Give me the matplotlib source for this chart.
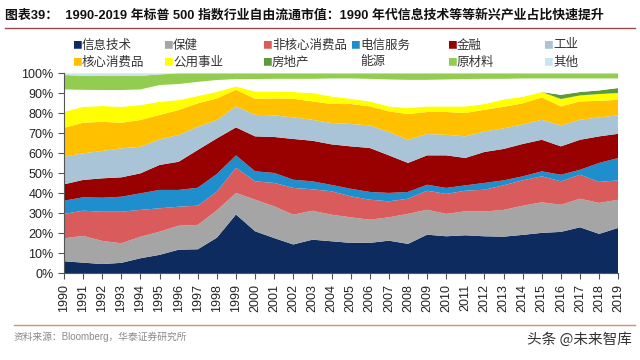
import matplotlib
matplotlib.use("Agg")
import matplotlib.pyplot as plt
from matplotlib.lines import Line2D
import numpy as np

plt.rcParams['font.family'] = ['Liberation Sans', 'Noto Sans CJK SC', 'DejaVu Sans']

years = list(range(1990, 2020))

# 各行业占比 (%)，自下而上堆叠
info_tech = [6.0, 5.3, 4.6, 5.2, 7.5, 9.2, 11.8, 12.0, 17.8, 29.4,
             21.0, 17.6, 14.4, 16.8, 16.0, 15.2, 15.2, 16.3, 14.7, 19.3,
             18.5, 19.0, 18.5, 18.3, 19.2, 20.2, 20.7, 23.0, 19.7, 22.7]
health = [11.5, 13.4, 11.6, 9.8, 10.8, 11.6, 12.0, 12.2, 13.7, 10.8,
          15.8, 15.9, 14.9, 14.5, 13.3, 12.8, 11.6, 11.7, 15.0, 12.5,
          11.2, 12.0, 12.4, 13.4, 14.6, 15.3, 13.6, 14.3, 15.5, 14.1]
cons_disc = [12.2, 12.6, 14.6, 15.8, 13.4, 11.7, 9.5, 9.6, 9.3, 12.6,
             9.2, 11.7, 13.4, 10.7, 11.7, 10.5, 10.0, 8.0, 7.6, 9.5,
             10.0, 10.3, 10.9, 12.3, 12.7, 13.0, 11.7, 12.0, 10.5, 9.7]
telecom = [6.6, 6.7, 7.0, 7.5, 8.3, 9.2, 8.4, 9.0, 8.9, 6.2,
           5.0, 5.0, 4.1, 4.0, 3.2, 3.8, 3.9, 4.2, 3.4, 3.0,
           3.0, 2.7, 3.4, 2.5, 2.0, 2.5, 3.3, 2.5, 9.5, 11.2]
financials = [8.2, 8.7, 9.7, 9.7, 10.0, 12.5, 14.1, 18.9, 17.8, 14.0,
              17.5, 18.0, 20.4, 20.3, 20.3, 21.2, 22.0, 18.8, 14.5, 14.7,
              16.3, 13.7, 15.5, 15.7, 16.2, 15.8, 14.2, 15.0, 13.3, 12.1]
industrials = [13.8, 13.3, 13.7, 14.5, 13.3, 12.8, 13.4, 11.6, 9.2, 10.5,
               10.8, 10.8, 10.8, 10.5, 10.7, 11.2, 11.3, 11.7, 11.6, 10.7,
               10.3, 10.8, 10.3, 10.3, 9.8, 10.0, 10.5, 10.0, 9.5, 9.2]
cons_staples = [14.5, 15.3, 14.6, 12.8, 13.4, 12.2, 12.5, 11.7, 10.8, 8.3,
                8.0, 8.5, 9.3, 9.2, 9.5, 10.0, 9.5, 10.3, 12.9, 11.0,
                11.4, 11.7, 10.8, 10.8, 10.5, 11.2, 9.5, 9.2, 8.3, 7.8]
utilities = [8.0, 8.0, 7.9, 8.0, 7.5, 6.6, 5.0, 3.7, 3.3, 1.7,
             3.7, 3.5, 3.4, 4.2, 3.8, 2.6, 2.5, 2.5, 3.0, 2.8,
             2.8, 3.3, 2.9, 3.7, 3.3, 2.7, 3.7, 3.0, 3.4, 3.4]
real_estate = [0, 0, 0, 0, 0, 0, 0, 0, 0, 0,
               0, 0, 0, 0, 0, 0, 0, 0, 0, 0,
               0, 0, 0, 0, 0, 0, 2.1, 1.7, 1.8, 2.5]
energy = [11.2, 8.5, 8.0, 8.4, 7.8, 8.4, 8.0, 7.1, 5.9, 3.7,
          6.2, 6.3, 6.6, 7.1, 9.0, 10.2, 11.3, 13.5, 14.1, 13.3,
          13.5, 13.7, 12.6, 10.3, 9.2, 6.8, 8.2, 6.8, 6.0, 4.8]
materials = [7.2, 7.0, 7.0, 7.0, 6.8, 5.3, 5.3, 4.2, 3.3, 2.8,
             2.8, 2.7, 2.7, 2.7, 2.5, 2.5, 2.7, 3.0, 3.2, 3.2,
             3.0, 2.8, 2.7, 2.7, 2.5, 2.5, 2.5, 2.5, 2.5, 2.5]
other = [0.8, 1.2, 1.3, 1.3, 1.2, 0.5, 0, 0, 0, 0,
         0, 0, 0, 0, 0, 0, 0, 0, 0, 0,
         0, 0, 0, 0, 0, 0, 0, 0, 0, 0]

labels = ['信息技术', '保健', '非核心消费品', '电信服务', '金融', '工业',
          '核心消费品', '公用事业', '房地产', '能源', '原材料', '其他']
colors = ['#0d2b5e', '#a5a5a5', '#d95b5b', '#1e8fcc', '#990000', '#a8c4d6',
          '#ffc000', '#ffff00', '#5b9b3c', '#ffffff', '#92cd50', '#c8e4f2']
series = [info_tech, health, cons_disc, telecom, financials, industrials,
          cons_staples, utilities, real_estate, energy, materials, other]

fig = plt.figure(figsize=(6.4, 3.6), dpi=100)
ax = fig.add_axes([0.1, 0.241, 0.866, 0.555])

ax.stackplot(years, *[np.array(s) for s in series], colors=colors, linewidth=0)

ax.set_xlim(1990, 2019)
ax.set_ylim(0, 100)
ax.set_xticks(years)
ax.set_xticklabels([str(y) for y in years], rotation=90, fontsize=9, color='#222222')
ax.set_yticks(range(0, 101, 10))
ax.set_yticklabels([f'{v}%' for v in range(0, 101, 10)], fontsize=9, color='#222222')
ax.tick_params(axis='both', direction='out', length=4, width=0.8, color='#555555')
for side in ['top', 'right']:
    ax.spines[side].set_visible(False)
for side in ['left', 'bottom']:
    ax.spines[side].set_color('#555555')
    ax.spines[side].set_linewidth(0.8)

# 图例：两行六列，手动排布
col_x = [72, 163, 262, 350, 447, 543]
row_y = [45, 62]
for i, (lab, col) in enumerate(zip(labels, colors)):
    r, c = divmod(i, 6)
    x = col_x[c] / 640
    y = 1 - row_y[r] / 360
    fig.text(x, y, '■', color=col, fontsize=7, va='center', ha='left',
             family=['Noto Sans CJK SC'])
    fig.text(x + 10 / 640, y, lab, color='#333333', fontsize=9, va='center', ha='left',
             family=['Noto Sans CJK SC'])

fig.text(5 / 640, 1 - 15 / 360,
         '图表39：  1990-2019 年标普 500 指数行业自由流通市值：1990 年代信息技术等等新兴产业占比快速提升',
         fontsize=9.3, fontweight='bold', va='center', ha='left', color='#111111')
fig.add_artist(Line2D([5 / 640, 635 / 640], [1 - 28 / 360, 1 - 28 / 360],
                      color='#9e4a4a', linewidth=1.0))
fig.add_artist(Line2D([14 / 640, 635 / 640], [1 - 325 / 360, 1 - 325 / 360],
                      color='#e08a78', linewidth=1.0))
fig.text(14 / 640, 1 - 337 / 360, '资料来源：Bloomberg，华泰证券研究所',
         fontsize=7, color='#8a8a8a', va='center', ha='left')
fig.text(632 / 640, 1 - 340 / 360, '头条 @未来智库',
         fontsize=10.5, color='#333333', va='center', ha='right',
         family=['Noto Sans CJK SC', 'DejaVu Sans'])

fig.savefig('out.png', dpi=100, facecolor='white')
